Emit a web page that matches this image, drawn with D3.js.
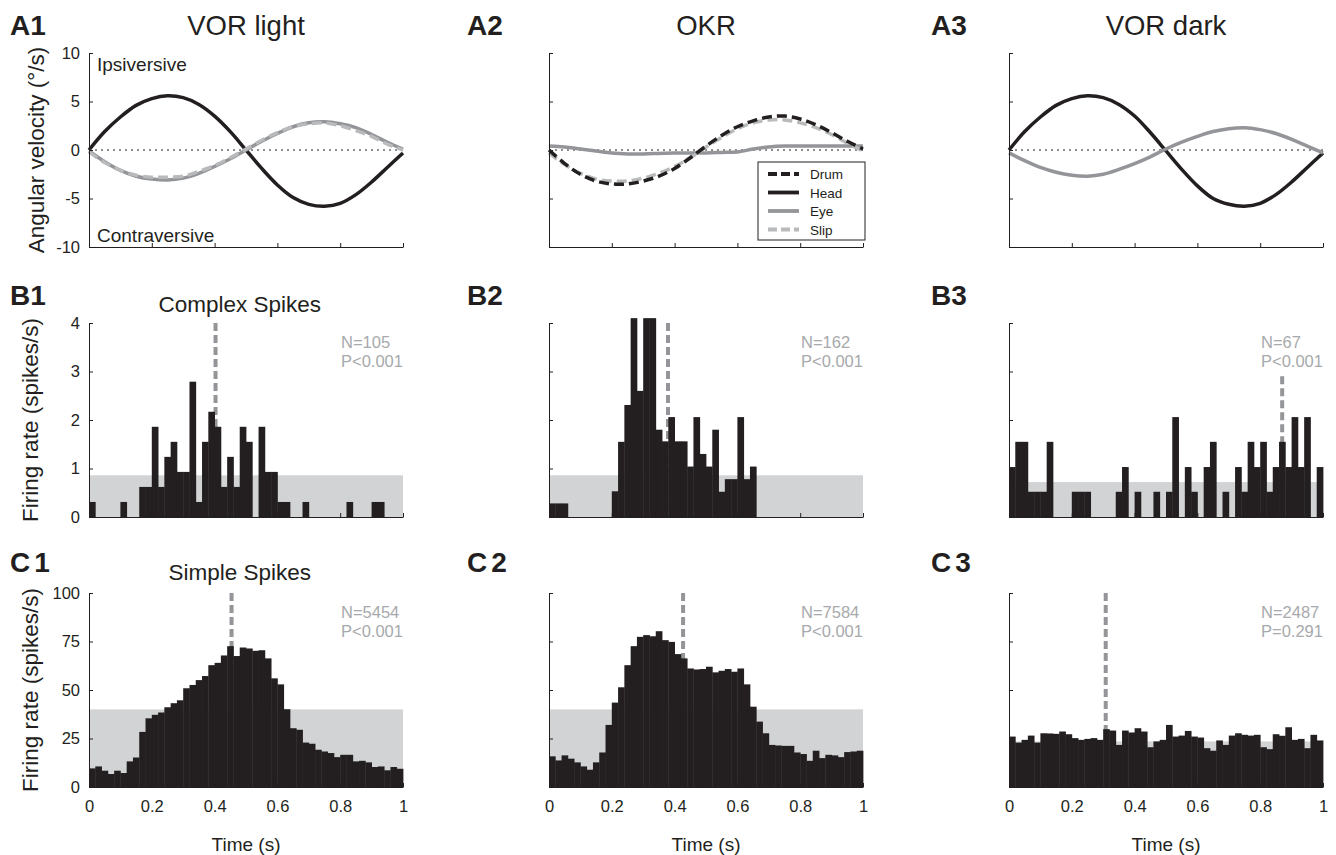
<!DOCTYPE html>
<html lang="en">
<head>
  <meta charset="UTF-8">
  <title>Vestibular and optokinetic tuning of spikes</title>
  <script src="https://d3js.org/d3.v7.min.js"></script>
  <style>
    body { margin: 0; background: #fff; }
    svg { display: block; font-family: Arial, "Liberation Sans", Helvetica, sans-serif; }
    .axis path, .axis line { stroke: #231f20; stroke-width: 1; }
    .axis text { fill: #231f20; font-size: 16.5px; font-family: Arial, "Liberation Sans", sans-serif; }
  </style>
</head>
<body>
<div id="chart"></div>
<script>
  const width = 1336;
  const height = 855;
  const ink = "#231f20";
  const bandGray = "#d1d3d4";
  const peakGray = "#939598";
  const statGray = "#a7a9ac";

  // panel geometry (3 columns x 3 rows)
  const colLeft = [89, 549, 1009];
  const plotW = 314;
  const rowTop = [53, 323, 593];
  const plotH = 194;

  const conditions = ["VOR light", "OKR", "VOR dark"];
  const xTicks = [0, 0.2, 0.4, 0.6, 0.8, 1];

  // --- Row A: stimulus / eye traces, sampled every 0.05 s ---
  const traceTime = [0, 0.05, 0.1, 0.15, 0.2, 0.25, 0.3, 0.35, 0.4, 0.45, 0.5,
                     0.55, 0.6, 0.65, 0.7, 0.75, 0.8, 0.85, 0.9, 0.95, 1];
  const headLight = [0, 1.9, 3.4, 4.6, 5.3, 5.6, 5.4, 4.7, 3.5, 1.9, 0.0,
                     -1.9, -3.6, -4.9, -5.6, -5.8, -5.5, -4.6, -3.3, -1.8, -0.3];
  const eyeLight = [-0.1, -1.2, -2.1, -2.7, -3.0, -3.1, -2.9, -2.4, -1.7, -0.9, 0.0,
                    0.9, 1.7, 2.4, 2.8, 2.9, 2.7, 2.3, 1.6, 0.8, 0.1];
  const slipLight = [-0.2, -1.3, -2.1, -2.6, -2.8, -2.8, -2.7, -2.2, -1.6, -0.8, 0.1,
                     1.0, 1.8, 2.4, 2.7, 2.8, 2.5, 2.0, 1.4, 0.6, 0.0];
  const drumOkr = [0, -1.4, -2.5, -3.2, -3.5, -3.5, -3.2, -2.7, -1.9, -0.8, 0.4,
                   1.5, 2.4, 3.0, 3.4, 3.5, 3.2, 2.6, 1.8, 0.9, 0.1];
  const eyeOkr = [0.4, 0.3, 0.1, -0.1, -0.3, -0.4, -0.4, -0.35, -0.3, -0.3, -0.3,
                  -0.25, -0.2, 0.1, 0.3, 0.4, 0.4, 0.4, 0.4, 0.4, 0.4];
  const slipOkr = [-0.3, -1.5, -2.4, -3.0, -3.2, -3.2, -2.9, -2.4, -1.7, -0.8, 0.3,
                   1.3, 2.2, 2.8, 3.1, 3.1, 2.8, 2.3, 1.6, 0.7, -0.1];
  const headDark = [0, 1.9, 3.4, 4.6, 5.3, 5.6, 5.4, 4.7, 3.5, 1.8, -0.1,
                    -2.0, -3.7, -5.0, -5.6, -5.8, -5.5, -4.6, -3.3, -1.8, -0.3];
  const eyeDark = [-0.3, -1.1, -1.8, -2.3, -2.6, -2.7, -2.5, -2.0, -1.4, -0.7, 0.1,
                   0.8, 1.4, 1.9, 2.2, 2.3, 2.1, 1.7, 1.1, 0.4, -0.3];

  // --- Rows B and C: PSTHs, 50 bins of 0.02 s ---
  const binWidth = 0.02;
  const csLight = [0.31, 0, 0, 0, 0, 0.31, 0, 0, 0.62, 0.62,
                   1.86, 0.62, 1.24, 1.55, 0.93, 0.93, 2.79, 0.31, 1.55, 2.17,
                   1.86, 0.62, 1.24, 0.62, 1.86, 1.55, 0, 1.86, 0.93, 0.93,
                   0.31, 0.31, 0, 0, 0.31, 0, 0, 0, 0, 0,
                   0, 0.31, 0, 0, 0, 0.31, 0.31, 0, 0, 0];
  const csOkr = [0.28, 0.28, 0.28, 0, 0, 0, 0, 0, 0, 0,
                 0.53, 1.55, 2.31, 4.1, 2.6, 4.1, 4.1, 1.8, 1.56, 2.06,
                 1.56, 1.56, 1.04, 2.06, 1.3, 1.04, 1.8, 0.52, 0.78, 0.78,
                 2.06, 0.78, 1.04, 0, 0, 0, 0, 0, 0, 0,
                 0, 0, 0, 0, 0, 0, 0, 0, 0, 0];
  const csDark = [1.03, 1.55, 1.55, 0.52, 0.52, 0.52, 1.55, 0, 0, 0,
                  0.52, 0.52, 0.52, 0, 0, 0, 0, 0.52, 1.03, 0,
                  0.52, 0, 0, 0.52, 0, 0.52, 2.06, 0, 1.03, 0.52,
                  0, 1.03, 1.55, 0, 0.52, 0, 1.03, 0.52, 1.55, 1.03,
                  1.55, 0.52, 1.03, 1.55, 1.03, 2.06, 1.03, 2.06, 0, 1.03];
  const ssLight = [9.6, 10.6, 8.4, 6.7, 8.4, 7.2, 13.2, 15.2, 28.4, 35.4,
                   37.2, 38.4, 41.1, 43.2, 44.7, 50.9, 52.6, 55.1, 57.2, 62.8,
                   64.0, 67.8, 72.6, 67.5, 71.9, 71.4, 70.2, 70.5, 66.3, 56.0,
                   52.9, 40.1, 30.3, 29.5, 22.9, 22.3, 19.2, 18.3, 17.5, 15.4,
                   16.6, 16.6, 13.2, 13.5, 12.7, 10.3, 10.6, 8.6, 10.3, 9.4];
  const ssOkr = [15.8, 13.7, 16.3, 14.6, 12.7, 10.6, 8.9, 12.7, 17.8, 32.0,
                 43.5, 51.4, 62.8, 72.6, 77.4, 78.3, 77.7, 80.3, 75.7, 74.8,
                 68.5, 66.3, 61.1, 60.6, 60.8, 62.0, 59.1, 59.9, 60.8, 59.4,
                 61.1, 52.9, 41.4, 33.7, 27.7, 21.7, 21.4, 21.2, 21.2, 17.8,
                 17.0, 13.5, 18.7, 14.9, 16.6, 16.3, 15.4, 18.0, 18.3, 18.7];
  const ssDark = [26.0, 22.9, 24.3, 26.5, 22.9, 27.7, 27.6, 27.4, 28.6, 27.2,
                  25.2, 24.3, 24.8, 25.2, 24.3, 29.8, 29.1, 21.7, 29.1, 28.1,
                  30.3, 28.6, 20.5, 23.5, 24.3, 32.0, 26.0, 26.5, 28.9, 26.0,
                  25.5, 20.0, 18.7, 24.0, 21.7, 26.5, 27.7, 26.9, 26.5, 26.9,
                  20.5, 19.5, 27.2, 26.4, 30.8, 24.3, 24.8, 20.0, 26.9, 24.0];

  // significance band top, preferred-phase time, top of the dashed marker
  const csBand = [0.86, 0.86, 0.72];
  const ssBand = [40, 40, 23.5];
  const csPeak = [0.403, 0.379, 0.87];
  const ssPeak = [0.454, 0.427, 0.308];
  const csPeakTop = [4, 4, 2.9];
  const ssPeakTop = [100, 100, 100];
  const csN = ["N=105", "N=162", "N=67"];
  const csP = ["P<0.001", "P<0.001", "P<0.001"];
  const ssN = ["N=5454", "N=7584", "N=2487"];
  const ssP = ["P<0.001", "P<0.001", "P=0.291"];

  const velTicks = [-10, -5, 0, 5, 10];
  const csTicks = [0, 1, 2, 3, 4];
  const ssTicks = [0, 25, 50, 75, 100];

  const legendItems = [
    { name: "Drum", color: ink, dash: "9,4" },
    { name: "Head", color: ink, dash: null },
    { name: "Eye", color: peakGray, dash: null },
    { name: "Slip", color: "#b8babc", dash: "9,4" }
  ];

  const svg = d3.select("#chart")
    .append("svg")
    .attr("width", width)
    .attr("height", height);

  const xScale = col => d3.scaleLinear().domain([0, 1]).range([colLeft[col], colLeft[col] + plotW]);
  const yScale = (row, domain) => d3.scaleLinear().domain(domain).range([rowTop[row] + plotH, rowTop[row]]);

  function drawAxes(x, y, yTicks, showY, showX) {
    svg.append("g")
      .attr("class", "axis")
      .attr("transform", `translate(0,${y.range()[0]})`)
      .call(d3.axisBottom(x).tickValues(xTicks).tickSizeInner(-4).tickSizeOuter(0)
        .tickPadding(13).tickFormat(showX ? d => d : ""));
    svg.append("g")
      .attr("class", "axis")
      .attr("transform", `translate(${x.range()[0]},0)`)
      .call(d3.axisLeft(y).tickValues(yTicks).tickSizeInner(-4).tickSizeOuter(0)
        .tickPadding(9).tickFormat(showY ? d => d : ""));
  }

  // Row A traces
  const traceSets = [
    [{ v: headLight, c: ink, dash: null }, { v: eyeLight, c: peakGray, dash: null }, { v: slipLight, c: "#b8babc", dash: "10,5" }],
    [{ v: eyeOkr, c: peakGray, dash: null }, { v: slipOkr, c: "#b8babc", dash: "10,5" }, { v: drumOkr, c: ink, dash: "10,5" }],
    [{ v: headDark, c: ink, dash: null }, { v: eyeDark, c: peakGray, dash: null }]
  ];

  conditions.forEach((cond, col) => {
    const x = xScale(col);
    const y = yScale(0, [-10, 10]);

    svg.append("line")
      .attr("x1", x(0)).attr("x2", x(1))
      .attr("y1", y(0)).attr("y2", y(0))
      .attr("stroke", ink).attr("stroke-width", 1.2)
      .attr("stroke-dasharray", "2,4");

    const line = d3.line()
      .x((d, i) => x(traceTime[i]))
      .y(d => y(d))
      .curve(d3.curveCatmullRom);

    traceSets[col].forEach(s => {
      svg.append("path")
        .attr("d", line(s.v))
        .attr("fill", "none")
        .attr("stroke", s.c)
        .attr("stroke-width", 3.5)
        .attr("stroke-dasharray", s.dash);
    });

    drawAxes(x, y, velTicks, col === 0, false);

    svg.append("text")
      .attr("x", x(0.5)).attr("y", 35)
      .attr("text-anchor", "middle")
      .attr("font-size", 27.5)
      .attr("fill", ink)
      .text(cond);
  });

  svg.append("text").attr("x", 97).attr("y", 71).attr("font-size", 19).attr("fill", ink).text("Ipsiversive");
  svg.append("text").attr("x", 97).attr("y", 242).attr("font-size", 19).attr("fill", ink).text("Contraversive");

  // legend in OKR panel
  const legend = svg.append("g");
  legend.append("rect")
    .attr("x", 758).attr("y", 162).attr("width", 107).attr("height", 78)
    .attr("fill", "#fff").attr("stroke", ink).attr("stroke-width", 1);
  legendItems.forEach((d, i) => {
    const ly = 174 + i * 18.5;
    legend.append("line")
      .attr("x1", 768).attr("x2", 799).attr("y1", ly).attr("y2", ly)
      .attr("stroke", d.color).attr("stroke-width", 3.8)
      .attr("stroke-dasharray", d.dash);
    legend.append("text")
      .attr("x", 810).attr("y", ly + 5)
      .attr("font-size", 13.5).attr("fill", ink)
      .text(d.name);
  });

  // Rows B and C histograms
  function drawHist(row, col, values, ymax, yTicks, band, peak, peakTop, nText, pText) {
    const x = xScale(col);
    const y = yScale(row, [0, ymax]);

    svg.append("rect")
      .attr("x", x(0)).attr("width", x(1) - x(0))
      .attr("y", y(band)).attr("height", y(0) - y(band))
      .attr("fill", bandGray);

    svg.append("line")
      .attr("x1", x(peak)).attr("x2", x(peak))
      .attr("y1", y(peakTop)).attr("y2", y(0))
      .attr("stroke", peakGray).attr("stroke-width", 4)
      .attr("stroke-dasharray", "8,4");

    svg.append("g")
      .selectAll("rect")
      .data(values)
      .join("rect")
      .attr("x", (d, i) => x(i * binWidth))
      .attr("width", (d, i) => x((i + 1) * binWidth) - x(i * binWidth) + 0.4)
      .attr("y", d => y(d))
      .attr("height", d => y(0) - y(d))
      .attr("fill", ink);

    drawAxes(x, y, yTicks, col === 0, row === 2);

    const tx = x(1) - 62;
    svg.append("text").attr("x", tx).attr("y", rowTop[row] + 25)
      .attr("font-size", 16.5).attr("fill", statGray).text(nText);
    svg.append("text").attr("x", tx).attr("y", rowTop[row] + 44)
      .attr("font-size", 16.5).attr("fill", statGray).text(pText);
  }

  [csLight, csOkr, csDark].forEach((v, col) =>
    drawHist(1, col, v, 4, csTicks, csBand[col], csPeak[col], csPeakTop[col], csN[col], csP[col]));
  [ssLight, ssOkr, ssDark].forEach((v, col) =>
    drawHist(2, col, v, 100, ssTicks, ssBand[col], ssPeak[col], ssPeakTop[col], ssN[col], ssP[col]));

  // row subtitles
  svg.append("text").attr("x", xScale(0)(0.48)).attr("y", 312)
    .attr("text-anchor", "middle").attr("font-size", 22.5).attr("fill", ink).text("Complex Spikes");
  svg.append("text").attr("x", xScale(0)(0.48)).attr("y", 580)
    .attr("text-anchor", "middle").attr("font-size", 22.5).attr("fill", ink).text("Simple Spikes");

  // y labels
  const yLabels = [
    { text: "Angular velocity (°/s)", x: 44, row: 0 },
    { text: "Firing rate (spikes/s)", x: 38, row: 1 },
    { text: "Firing rate (spikes/s)", x: 38, row: 2 }
  ];
  yLabels.forEach(d => {
    const cy = rowTop[d.row] + plotH / 2;
    svg.append("text")
      .attr("transform", `translate(${d.x},${cy}) rotate(-90)`)
      .attr("text-anchor", "middle")
      .attr("font-size", 22.5)
      .attr("fill", ink)
      .text(d.text);
  });

  // x labels
  colLeft.forEach((l, col) => {
    svg.append("text")
      .attr("x", xScale(col)(0.5)).attr("y", 851)
      .attr("text-anchor", "middle").attr("font-size", 19).attr("fill", ink)
      .text("Time (s)");
  });

  // panel letters
  const panelX = [10, 467, 931];
  const panelY = [35, 305, 572];
  ["A", "B", "C"].forEach((r, ri) => {
    panelX.forEach((px, ci) => {
      svg.append("text")
        .attr("x", px).attr("y", panelY[ri])
        .attr("font-size", 28).attr("font-weight", "bold").attr("fill", ink)
        .attr("letter-spacing", r === "C" ? 4 : 0)
        .text(r + (ci + 1));
    });
  });
</script>
</body>
</html>
